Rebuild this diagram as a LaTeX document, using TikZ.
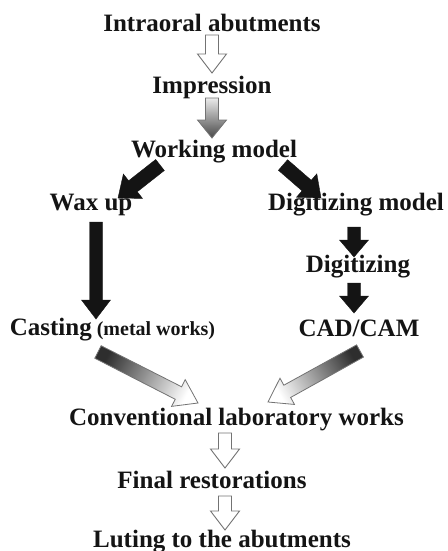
\documentclass[tikz,border=0pt]{standalone}
\usepackage{fontspec}
\setmainfont{Liberation Serif}
\usetikzlibrary{calc}

% sizes of a block arrow (pt): shaft half width, head half width, head length
\tikzset{
  arrow shaft/.store in=\arrshaft,
  arrow head/.store in=\arrhead,
  arrow len/.store in=\arrlen,
  arrow shaft=6.5, arrow head=14.5, arrow len=19,
}

% \blockarrow[sizes]{style}{tail}{tip}: a broad arrow drawn as a polygon
\newcommand\blockarrow[4][]{%
  \begingroup
  \tikzset{#1}%
  \coordinate (ba-t) at #3;
  \coordinate (ba-h) at #4;
  \coordinate (ba-n) at ($(ba-h)!\arrlen pt!(ba-t)$);
  \path[#2]
    ($(ba-t)!\arrshaft pt!90:(ba-h)$) --
    ($(ba-n)!\arrshaft pt!90:(ba-h)$) --
    ($(ba-n)!\arrhead pt!90:(ba-h)$) --
    (ba-h) --
    ($(ba-n)!\arrhead pt!-90:(ba-h)$) --
    ($(ba-n)!\arrshaft pt!-90:(ba-h)$) --
    ($(ba-t)!\arrshaft pt!-90:(ba-h)$) -- cycle;
  \endgroup
}

\begin{document}
\begin{tikzpicture}[x=1pt, y=-1pt,
  lbl/.style={font=\fontsize{25}{30}\selectfont\bfseries, inner sep=0pt,
              anchor=base, text=black!92},
  hollow/.style={draw=black!55, line width=0.9pt, fill=white, line join=miter},
  solid/.style={fill=black!92, draw=black!92, line width=0.4pt, line join=miter},
  graded/.style={draw=black!55, line width=0.8pt, line join=miter},
]
\useasboundingbox (0,0) rectangle (447,551);

% steps of the workflow
\node[lbl] (intra)  at (212,32)   {Intraoral abutments};
\node[lbl] (impr)   at (212,93)   {Impression};
\node[lbl] (work)   at (214,157)  {Working model};
\node[lbl] (wax)    at (91,210)   {Wax up};
\node[lbl] (digm)   at (356,210)  {Digitizing model};
\node[lbl] (digi)   at (358,272)  {Digitizing};
\node[lbl] (cast)   at (112.5,335)
  {Casting\fontsize{20}{24}\selectfont\ (metal works)};
\node[lbl] (cadcam) at (359,336)  {CAD/CAM};
\node[lbl] (conv)   at (236.5,425){Conventional laboratory works};
\node[lbl] (final)  at (212,488)  {Final restorations};
\node[lbl] (luting) at (222,547)  {Luting to the abutments};

% arrows between the steps
\blockarrow{hollow}{($(intra.base)+(0,3)$)}{($(impr.base)+(0,-20)$)}
\blockarrow[arrow len=18]{graded, top color=black!8, bottom color=black!72}
  {($(impr.base)+(0,5)$)}{($(work.base)+(-2,-19)$)}

\blockarrow[arrow shaft=7, arrow head=15.5, arrow len=19]{solid}
  {($(work.base)+(-54,8)$)}{($(wax.base)+(27,-12)$)}
\blockarrow[arrow shaft=7, arrow head=15.5, arrow len=19]{solid}
  {($(work.base)+(69,8)$)}{($(digm.base)+(-35,-12)$)}

\blockarrow{solid}{($(wax.base)+(5,12)$)}{($(cast.base)+(-16.5,-16)$)}
\blockarrow[arrow len=17]{solid}{($(digm.base)+(-2,17)$)}{($(digi.base)+(-4,-15)$)}
\blockarrow[arrow len=17]{solid}{($(digi.base)+(-4,11)$)}{($(cadcam.base)+(-5,-23)$)}

\blockarrow[arrow shaft=7, arrow head=15, arrow len=22]
  {graded, top color=black!82, bottom color=white, shading angle=63}
  {($(cast.base)+(-14.5,17)$)}{($(conv.base)+(-38.5,-22)$)}
\blockarrow[arrow shaft=7, arrow head=15, arrow len=22]
  {graded, top color=black!82, bottom color=white, shading angle=-61}
  {($(cadcam.base)+(1,15)$)}{($(conv.base)+(31.5,-23)$)}

\blockarrow{hollow}{($(conv.base)+(-11.5,8)$)}{($(final.base)+(13,-20)$)}
\blockarrow{hollow}{($(final.base)+(13,8)$)}{($(luting.base)+(3,-17)$)}
\end{tikzpicture}
\end{document}
